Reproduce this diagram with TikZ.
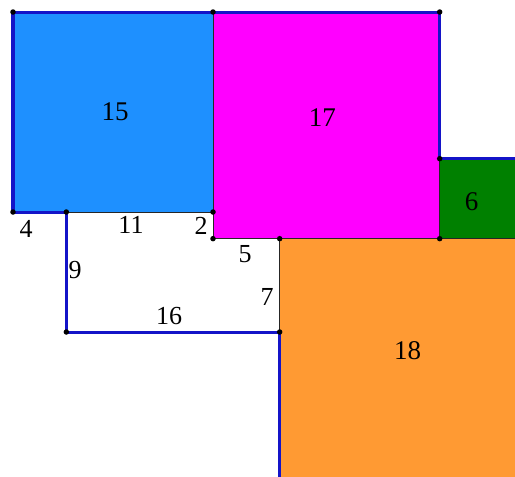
\documentclass[tikz,border=0pt]{standalone}
\usepackage{fontspec}
\setmainfont{Liberation Serif}
\definecolor{sqblue}{RGB}{30,144,255}
\definecolor{sqmag}{RGB}{255,0,255}
\definecolor{sqgreen}{RGB}{0,128,0}
\definecolor{sqorange}{RGB}{255,154,51}
\definecolor{rim}{RGB}{20,20,200}
\tikzset{
  rimline/.style={draw=rim,line width=3pt,line join=round},
  inner/.style={draw=black!85,line width=0.8pt},
  vdot/.style={circle,fill=black,inner sep=0pt,minimum size=5.5pt},
  sqlabel/.style={font=\fontsize{27}{27}\selectfont,inner sep=0pt},
  edgelabel/.style={font=\fontsize{26}{26}\selectfont,inner sep=0pt}
}
\begin{document}
\begin{tikzpicture}[x=13.333pt,y=-13.333pt]
\useasboundingbox (-0.975,-0.9) rectangle (37.65,34.8);
\clip (-0.975,-0.9) rectangle (37.65,34.8);
% vertices
\coordinate (A) at (0,0);
\coordinate (B) at (15,0);
\coordinate (C) at (32,0);
\coordinate (D) at (0,15);
\coordinate (E) at (4,15);
\coordinate (F) at (15,15);
\coordinate (G) at (15,17);
\coordinate (H) at (20,17);
\coordinate (I) at (32,11);
\coordinate (J) at (32,17);
\coordinate (K) at (4,24);
\coordinate (L) at (20,24);
\coordinate (M) at (38,11);
\coordinate (N) at (38,17);
\coordinate (P) at (20,35);
\coordinate (Q) at (38,35);
% squares
\fill[sqblue] (A) rectangle (F);
\fill[sqmag] (B) rectangle (J);
\fill[sqgreen] (I) rectangle (N);
\fill[sqorange] (H) rectangle (Q);
% inner edges
\draw[inner] (B) -- (F) -- (E);
\draw[inner] (F) -- (G) -- (H) -- (J) -- (N);
\draw[inner] (I) -- (J);
\draw[inner] (H) -- (L);
% rim
\draw[rimline] (E) -- (D) -- (A) -- (B) -- (C) -- (I) -- (M);
\draw[rimline] (E) -- (K) -- (L) -- (P);
% dots
\foreach \p in {A,B,C,D,E,F,G,H,I,J,K,L}
  \node[vdot] at (\p) {};
% square labels
\node[sqlabel] (l15) at (7.65,7.5) {15};
\node[sqlabel] (l17) at (23.2,7.9) {17};
\node[sqlabel] (l6) at (34.4,14.2) {6};
\node[sqlabel] (l18) at (29.6,25.4) {18};
% edge labels
\node[edgelabel] (e4) at (0.98,16.3) {4};
\node[edgelabel] (e11) at (8.85,16.0) {11};
\node[edgelabel] (e2) at (14.1,16.05) {2};
\node[edgelabel] (e5) at (17.4,18.15) {5};
\node[edgelabel] (e7) at (19.05,21.4) {7};
\node[edgelabel] (e9) at (4.65,19.35) {9};
\node[edgelabel] (e16) at (11.7,22.8) {16};
\end{tikzpicture}
\end{document}
